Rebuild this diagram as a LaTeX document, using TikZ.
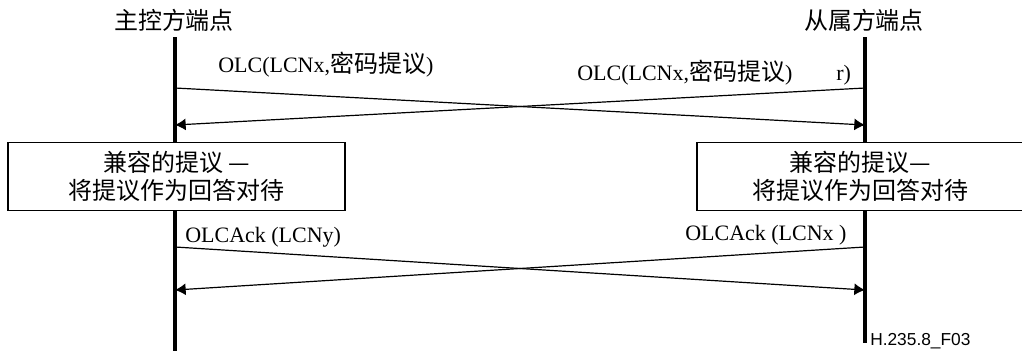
\documentclass[tikz,border=0pt]{standalone}
\usepackage{fontspec}
\setmainfont{Liberation Serif}
\newfontfamily\cjk[Scale=1.09]{Noto Sans CJK SC}
\newfontfamily\labelsans{Liberation Sans}
\usetikzlibrary{arrows.meta}
\tikzset{%
  every msg/.style={
    draw,
    line width=0.9pt,
    -{Latex[length=8pt,width=9pt]}
  },
  lifeline/.style={
    draw,
    line width=2.6pt
  },
  answer box/.style={
    draw,
    fill=white,
    line width=1.2pt,
    align=center,
    inner sep=0pt,
    font=\fontsize{16.5}{21}\selectfont\cjk
  },
}

\begin{document}
\begin{tikzpicture}[x=0.75pt,y=-0.75pt,font=\fontsize{16.5}{20}\selectfont]
    		\useasboundingbox (0,0) rectangle (1022,351);
    		\tikzstyle{msglabel}=[anchor=base west,inner sep=0pt]
    		% endpoints
    		\node[font=\fontsize{16.5}{20}\selectfont\cjk] (master) at (174,20) {主控方端点};
    		\node[font=\fontsize{16.5}{20}\selectfont\cjk] (slave) at (864,20) {从属方端点};
    		\coordinate (mtop) at (175,37);
    		\coordinate (stop) at (865,37);
    		\coordinate (mbot) at (175,351);
    		\coordinate (sbot) at (865,343);
    		\draw[lifeline] (mtop) -- (mbot);
    		\draw[lifeline] (stop) -- (sbot);
    		% open logical channel, both sides at once
    		\coordinate (m1) at (175,88);
    		\coordinate (s1) at (865,88);
    		\coordinate (m2) at (175,125);
    		\coordinate (s2) at (865,125);
    		\draw[every msg] (m1) -- (s2);
    		\draw[every msg] (s1) -- (m2);
    		\node[msglabel] (olcm) at (218,72) {OLC(LCNx,{\cjk 密码提议})};
    		\node[msglabel] (olcs) at (577,80) {OLC(LCNx,{\cjk 密码提议})};
    		\node[msglabel] (olcr) at (836,80) {r)};
    		% each side treats the proposal as an answer
    		\node[answer box,minimum width=252.75pt,minimum height=51pt] (cm) at (176.5,176.5)
    		    {兼容的提议 —\\将提议作为回答对待};
    		\node[answer box,minimum width=245.25pt,minimum height=51pt] (cs) at (860.5,176.5)
    		    {兼容的提议—\\将提议作为回答对待};
    		% acknowledgements
    		\coordinate (m3) at (175,247);
    		\coordinate (s3) at (865,247);
    		\coordinate (m4) at (175,290);
    		\coordinate (s4) at (865,290);
    		\draw[every msg] (m3) -- (s4);
    		\draw[every msg] (s3) -- (m4);
    		\node[msglabel] (ackm) at (185,242) {OLCAck (LCNy)};
    		\node[msglabel] (acks) at (685,240) {OLCAck (LCNx )};
    		\node[anchor=base west,inner sep=0pt,font=\fontsize{13}{14}\selectfont\labelsans] (tag) at (870,345) {H.235.8\_F03};
        \end{tikzpicture}
\end{document}
